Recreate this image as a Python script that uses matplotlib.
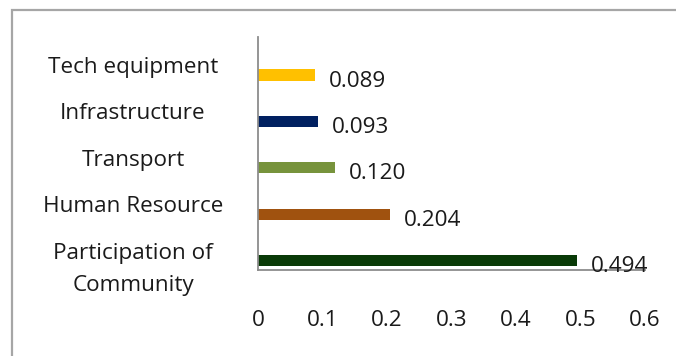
import matplotlib.pyplot as plt
import matplotlib.transforms as mtransforms
from matplotlib.patches import Rectangle

# Categories from bottom to top
categories = ['Participation of\nCommunity', 'Human Resource', 'Transport',
              'Infrastructure', 'Tech equipment']
values = [0.494, 0.204, 0.120, 0.093, 0.089]
value_labels = ['0.494', '0.204', '0.120', '0.093', '0.089']
colors = ['#093A07', '#A0520F', '#77933C', '#002060', '#FFC000']
x_ticks = [0, 0.1, 0.2, 0.3, 0.4, 0.5, 0.6]
x_tick_labels = ['0', '0.1', '0.2', '0.3', '0.4', '0.5', '0.6']

plt.rcParams['font.family'] = ['Open Sans', 'DejaVu Sans']
txt_color = '#1A1A1A'
fs = 16.2

fig = plt.figure(figsize=(6.76, 3.56), dpi=100)
# outer chart frame (runs off the right and bottom edges)
fig.patches.append(Rectangle((12 / 676, -0.5), 2.0, 0.5 + (356 - 10) / 356,
                             transform=fig.transFigure, fill=False,
                             edgecolor='#A6A6A6', linewidth=1.6))

ax = fig.add_axes([258 / 676, (356 - 270) / 356, (645 - 258) / 676, (270 - 37) / 356])

pos = list(range(len(categories)))
ax.barh(pos, values, height=0.24, color=colors)

ax.set_xlim(0, 0.6)
ax.set_ylim(-0.2, 4.82)

for s in ['top', 'right']:
    ax.spines[s].set_visible(False)
for s in ['left', 'bottom']:
    ax.spines[s].set_color('#8C8C8C')
    ax.spines[s].set_linewidth(1.3)

ax.set_xticks(x_ticks)
ax.set_xticklabels(x_tick_labels, fontsize=fs, color=txt_color)
ax.tick_params(axis='x', length=0, pad=28.5)
ax.set_yticks([])

# category labels, sitting a little above each bar
trans = mtransforms.blended_transform_factory(ax.transAxes, ax.transData)
lift = mtransforms.ScaledTranslation(0, 18 / 100, fig.dpi_scale_trans)
for p, name in zip(pos, categories):
    ax.text(-0.323, p, name, transform=trans + lift, ha='center', va='top',
            fontsize=fs, color=txt_color, linespacing=1.7)

# value labels
for p, v, lab in zip(pos, values, value_labels):
    ax.annotate(lab, (v, p), xytext=(10, -4.3), textcoords='offset points',
                ha='left', va='center', fontsize=fs, color=txt_color)

fig.savefig('out.png', dpi=100)
